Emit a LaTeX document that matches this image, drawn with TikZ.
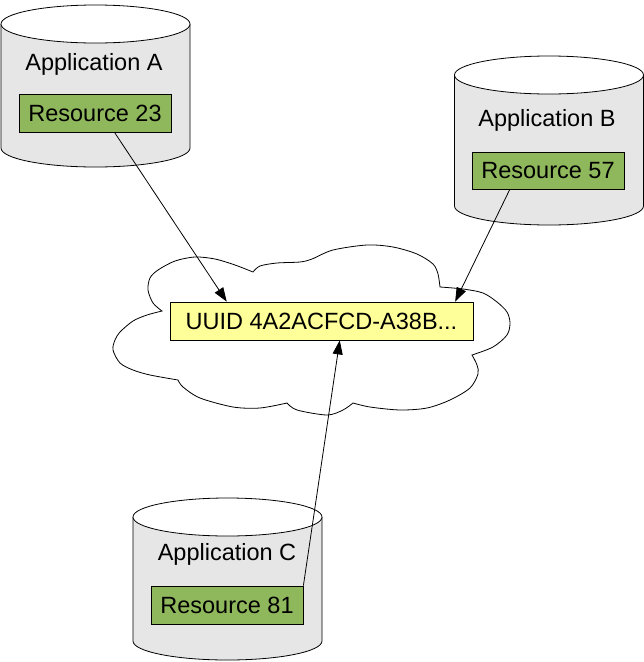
\documentclass[tikz,border=0pt]{standalone}
\usepackage{fontspec}
\setmainfont{Liberation Sans}
\usetikzlibrary{arrows.meta,calc}
\definecolor{cylgray}{RGB}{230,230,230}
\definecolor{resgreen}{RGB}{143,183,92}
\definecolor{uuidyellow}{RGB}{255,255,153}
\newcommand\appcyl[3]{% #1 = centre x, #2 = top ellipse centre y, #3 = bottom ellipse centre y
  \fill[cylgray] (#1-94.5,#2) -- (#1-94.5,#3) arc[start angle=180,end angle=360,x radius=94.5pt,y radius=19pt] -- (#1+94.5,#2) -- cycle;
  \draw[thinline] (#1-94.5,#2) -- (#1-94.5,#3) arc[start angle=180,end angle=360,x radius=94.5pt,y radius=19pt] -- (#1+94.5,#2);
  \filldraw[thinline,fill=white] (#1,#2) ellipse[x radius=94.5pt,y radius=19pt];
}
\tikzset{
  thinline/.style={line width=0.8pt,draw=black},
  apptext/.style={font=\fontsize{23.5}{28}\selectfont,anchor=base,inner sep=0pt},
  resbox/.style={draw=black,line width=0.8pt,fill=resgreen,minimum width=152pt,minimum height=38pt,inner sep=0pt,font=\fontsize{23.5}{28}\selectfont},
  uuidbox/.style={draw=black,line width=0.8pt,fill=uuidyellow,minimum width=303pt,minimum height=38pt,inner sep=0pt,font=\fontsize{23.5}{28}\selectfont},
  link/.style={line width=0.8pt,-{Triangle[length=14pt,width=10pt]}},
}
\begin{document}
\begin{tikzpicture}[x=1pt,y=-1pt]
\useasboundingbox (0,0) rectangle (644,662);
% cylinders
\appcyl{95.5}{24}{148}
\appcyl{549}{75}{206}
\appcyl{227.5}{517}{641}
% application labels
\node[apptext] (appA) at (94,70) {Application A};
\node[apptext] (appB) at (547,126) {Application B};
\node[apptext] (appC) at (227,560.5) {Application C};
% resources
\node[resbox] (r23) at (95,113.5) {Resource 23};
\node[resbox,minimum height=37pt] (r57) at (548,170.5) {Resource 57};
\node[resbox] (r81) at (227,605) {Resource 81};
% cloud
\draw[thinline,fill=white]
  plot[smooth] coordinates {(162,311) (153,303) (148,290) (150,278) (158,270) (175,261) (195,257) (215,259) (235,265) (253,272)}
  -- plot[smooth] coordinates {(253,272) (260,266) (277,263) (300,262) (312,259) (333,250) (367,245) (393,247) (417,254) (433,264) (438,274) (440,287)}
  -- plot[smooth] coordinates {(440,287) (463,289) (483,293) (497,302) (507,312) (510,323) (507,335) (493,347) (472,355)}
  -- plot[smooth] coordinates {(472,355) (477,365) (478,374) (470,388) (450,400) (427,408) (400,410) (370,407) (353,403)}
  -- plot[smooth] coordinates {(353,403) (343,410) (327,415) (297,410) (287,403)}
  -- plot[smooth] coordinates {(287,403) (260,408) (233,407) (200,398) (183,387) (178,380)}
  -- plot[smooth] coordinates {(178,380) (150,375) (133,370) (120,363) (113,350) (115,340) (120,332) (133,321) (147,315) (162,311)}
  -- cycle;
% uuid
\node[uuidbox] (uuid) at (321.5,321) {UUID 4A2ACFCD-A38B...};
% connectors
\draw[link] ($(r23.south west)!0.63!(r23.south east)$) -- ($(uuid.north west)!0.188!(uuid.north east)$);
\draw[link] ($(r57.south west)!0.25!(r57.south east)$) -- ($(uuid.north west)!0.94!(uuid.north east)$);
\draw[link] (r81.north east) -- ($(uuid.south west)!0.56!(uuid.south east)$);
\end{tikzpicture}
\end{document}
